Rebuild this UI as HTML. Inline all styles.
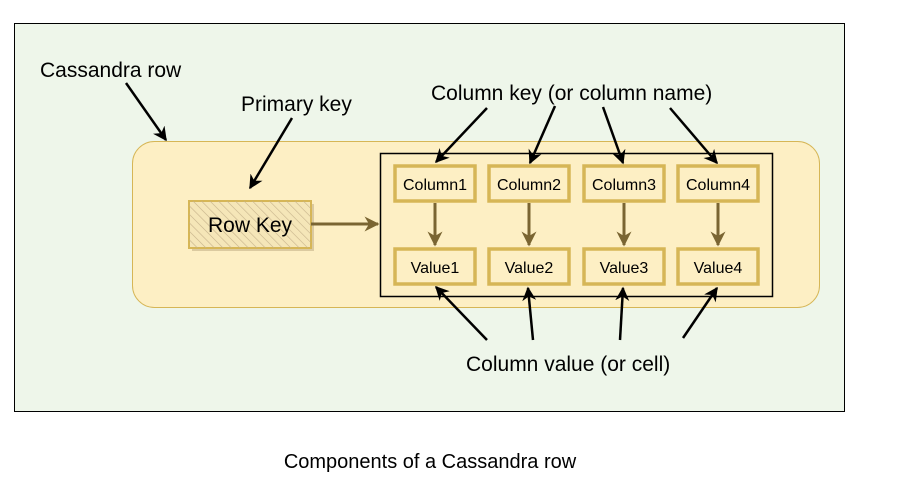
<!DOCTYPE html>
<html><head><meta charset="utf-8"><style>body{margin:0;background:#fff}svg{display:block}</style></head>
<body>
<svg width="908" height="493" viewBox="0 0 908 493" xmlns="http://www.w3.org/2000/svg" font-family="Liberation Sans, sans-serif">
<defs>
<marker id="ab" viewBox="0 0 10 10" refX="9" refY="5" markerWidth="14" markerHeight="14" orient="auto" markerUnits="userSpaceOnUse"><path d="M0,0 L10,5 L0,10 L3,5 z" fill="#000"/></marker>
<marker id="ao" viewBox="0 0 10 10" refX="9" refY="5" markerWidth="5" markerHeight="5" orient="auto" markerUnits="strokeWidth"><path d="M0,0 L10,5 L0,10 L3,5 z" fill="#7a6532"/></marker>
<pattern id="hatch" width="6" height="6" patternUnits="userSpaceOnUse" patternTransform="rotate(-45)"><line x1="0" y1="0" x2="0" y2="6" stroke="#c4b089" stroke-width="1.2"/></pattern>
</defs>
<rect x="14.5" y="23.5" width="830" height="388" fill="#eef6ea" stroke="#000" stroke-width="1"/>
<rect x="132.5" y="141.5" width="687" height="166" rx="22" fill="#fdefc4" stroke="#d6b656" stroke-width="1"/>
<rect x="380.5" y="153.5" width="392" height="143" fill="none" stroke="#000" stroke-width="1.5"/>
<rect x="192" y="204" width="122" height="47" fill="#c4b089" opacity="0.6"/>
<rect x="189" y="201" width="122" height="47" fill="#f5e6b8" stroke="#d6b656" stroke-width="2"/>
<rect x="189" y="201" width="122" height="47" fill="url(#hatch)"/>
<text x="250" y="232" font-size="21" text-anchor="middle">Row Key</text>
<line x1="311" y1="224" x2="378" y2="224" stroke="#7a6532" stroke-width="3" marker-end="url(#ao)"/>
<g stroke="#d6b656" stroke-width="3.5" fill="#fdefc4">
<rect x="395" y="166" width="80" height="35" /><rect x="489" y="166" width="80" height="35"/><rect x="584" y="166" width="80" height="35"/><rect x="678" y="166" width="80" height="35"/>
<rect x="395" y="249" width="80" height="35"/><rect x="489" y="249" width="80" height="35"/><rect x="584" y="249" width="80" height="35"/><rect x="678" y="249" width="80" height="35"/>
</g>
<g font-size="16" text-anchor="middle">
<text x="435" y="190">Column1</text><text x="529" y="190">Column2</text><text x="624" y="190">Column3</text><text x="718" y="190">Column4</text>
<text x="435" y="273">Value1</text><text x="529" y="273">Value2</text><text x="624" y="273">Value3</text><text x="718" y="273">Value4</text>
</g>
<g stroke="#7a6532" stroke-width="3" marker-end="url(#ao)">
<line x1="435" y1="203" x2="435" y2="245"/><line x1="529" y1="203" x2="529" y2="245"/><line x1="624" y1="203" x2="624" y2="245"/><line x1="718" y1="203" x2="718" y2="245"/>
</g>
<g stroke="#000" stroke-width="2.5" marker-end="url(#ab)">
<line x1="126" y1="83" x2="166" y2="140"/>
<line x1="292" y1="118" x2="250" y2="188"/>
<line x1="487" y1="108" x2="436" y2="162"/>
<line x1="555" y1="106" x2="530" y2="163"/>
<line x1="603" y1="107" x2="623" y2="163"/>
<line x1="670" y1="108" x2="717" y2="163"/>
<line x1="487" y1="340" x2="436" y2="287"/>
<line x1="533" y1="340" x2="528" y2="288"/>
<line x1="620" y1="340" x2="623" y2="288"/>
<line x1="683" y1="338" x2="717" y2="288"/>
</g>
<g font-size="21">
<text x="40" y="77">Cassandra row</text>
<text x="241" y="111">Primary key</text>
<text x="431" y="100">Column key (or column name)</text>
<text x="466" y="371">Column value (or cell)</text>
</g>
<text x="430" y="468" font-size="20" text-anchor="middle">Components of a Cassandra row</text>
</svg>
</body></html>
